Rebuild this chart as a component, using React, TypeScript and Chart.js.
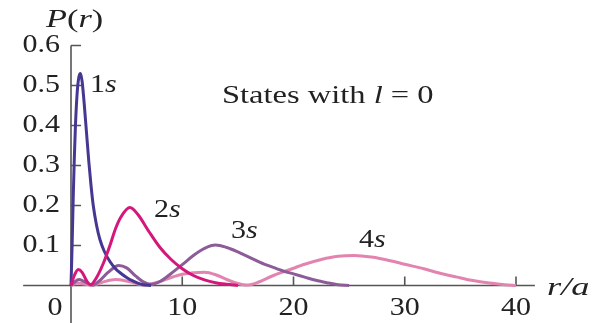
import React, { useEffect, useRef } from "react";
import { Chart, registerables } from "chart.js";

Chart.register(...registerables);

// Radial probability distributions P(r) for hydrogen states with l = 0
const r1s = [0, 0.1, 0.2, 0.3, 0.4, 0.55, 0.7, 0.85, 1.0, 1.2, 1.4, 1.6, 1.8, 2.0, 2.3, 2.6, 3.0, 3.5, 4.0, 4.5, 5.0, 5.5, 6.0, 6.5, 7.2];
const p1s = [0, 0.1, 0.22, 0.32, 0.4, 0.48, 0.52, 0.53, 0.51, 0.45, 0.38, 0.31, 0.25, 0.2, 0.15, 0.115, 0.085, 0.06, 0.042, 0.03, 0.02, 0.012, 0.006, 0.002, 0];

const r2s = [0, 0.3, 0.65, 1.0, 1.4, 1.75, 2.3, 2.9, 3.5, 4.0, 4.5, 5.3, 6.0, 7.0, 8.0, 9.0, 10.0, 11.0, 12.0, 13.0, 14.0, 15.0];
const p2s = [0, 0.025, 0.04, 0.033, 0.012, 0.002, 0.02, 0.055, 0.1, 0.142, 0.172, 0.195, 0.178, 0.135, 0.095, 0.065, 0.042, 0.025, 0.014, 0.007, 0.003, 0];

const r3s = [0, 0.3, 0.7, 1.2, 1.9, 2.6, 3.3, 4.3, 5.0, 5.8, 6.5, 7.2, 8.0, 9.0, 10.0, 11.0, 12.0, 13.0, 14.0, 15.0, 16.0, 17.0, 18.0, 19.0, 20.0, 21.0, 22.0, 23.0, 24.0, 25.0];
const p3s = [0, 0.008, 0.015, 0.01, 0.001, 0.013, 0.032, 0.05, 0.044, 0.024, 0.009, 0.003, 0.01, 0.03, 0.052, 0.075, 0.093, 0.101, 0.095, 0.084, 0.071, 0.058, 0.047, 0.037, 0.029, 0.021, 0.013, 0.007, 0.002, 0];

const r4s = [0, 0.6, 1.2, 1.9, 2.8, 4.0, 5.2, 6.6, 8.0, 9.0, 10.0, 11.0, 12.0, 13.0, 14.0, 15.0, 15.8, 17.0, 18.2, 19.7, 21.0, 22.5, 24.0, 25.5, 27.0, 28.7, 30.0, 31.7, 33.0, 34.7, 36.0, 37.6, 39.0, 40.0];
const p4s = [0, 0.006, 0.004, 0.0005, 0.008, 0.015, 0.01, 0.001, 0.01, 0.02, 0.028, 0.032, 0.033, 0.027, 0.015, 0.005, 0.001, 0.01, 0.025, 0.04, 0.053, 0.065, 0.073, 0.075, 0.071, 0.062, 0.053, 0.042, 0.032, 0.021, 0.013, 0.006, 0.002, 0];

const xTicks = [0, 10, 20, 30, 40];
const xTickLabels = ["0", "10", "20", "30", "40"];
const yTicks = [0.1, 0.2, 0.3, 0.4, 0.5, 0.6];
const yTickLabels = ["0.1", "0.2", "0.3", "0.4", "0.5", "0.6"];

const W = 598;
const H = 323;
const SERIF = '"Liberation Serif", "Times New Roman", serif';
const INK = "#222222";
const AXIS = "#555555";
const STRETCH = 1.2;

function toPoints(xs: number[], ys: number[]) {
  return xs.map((x, i) => ({ x, y: ys[i] }));
}

type Part = { t: string; italic?: boolean };

// Draws a run of text pieces (some italic) starting at x, horizontally widened
function drawParts(ctx: CanvasRenderingContext2D, parts: Part[], x: number, y: number, size: number, sx = STRETCH) {
  ctx.save();
  ctx.translate(x, y);
  ctx.scale(sx, 1);
  ctx.fillStyle = INK;
  ctx.textAlign = "left";
  ctx.textBaseline = "alphabetic";
  let cx = 0;
  for (const p of parts) {
    ctx.font = `${p.italic ? "italic " : ""}${size}px ${SERIF}`;
    ctx.fillText(p.t, cx, 0);
    cx += ctx.measureText(p.t).width;
  }
  ctx.restore();
}

function drawAligned(ctx: CanvasRenderingContext2D, text: string, x: number, y: number, size: number, align: CanvasTextAlign, baseline: CanvasTextBaseline) {
  ctx.save();
  ctx.translate(x, y);
  ctx.scale(STRETCH, 1);
  ctx.fillStyle = INK;
  ctx.font = `${size}px ${SERIF}`;
  ctx.textAlign = align;
  ctx.textBaseline = baseline;
  ctx.fillText(text, 0, 0);
  ctx.restore();
}

const axesPlugin = {
  id: "crossedAxes",
  beforeDatasetsDraw(chart: any) {
    const ctx: CanvasRenderingContext2D = chart.ctx;
    const xs = chart.scales.x;
    const ys = chart.scales.y;
    const x0 = xs.getPixelForValue(0);
    const y0 = ys.getPixelForValue(0);
    ctx.save();
    ctx.strokeStyle = AXIS;
    ctx.lineWidth = 1.6;
    ctx.beginPath();
    // horizontal axis through P = 0
    ctx.moveTo(xs.getPixelForValue(-4.3), y0);
    ctx.lineTo(xs.getPixelForValue(41.7), y0);
    // vertical axis through r = 0
    ctx.moveTo(x0, ys.getPixelForValue(0.6));
    ctx.lineTo(x0, H);
    ctx.stroke();
    ctx.beginPath();
    for (const v of xTicks) {
      if (v === 0) continue;
      const px = xs.getPixelForValue(v);
      ctx.moveTo(px, y0);
      ctx.lineTo(px, y0 - 9);
    }
    for (const v of yTicks) {
      const py = ys.getPixelForValue(v);
      ctx.moveTo(x0, py);
      ctx.lineTo(x0 + 10, py);
    }
    ctx.stroke();
    ctx.restore();
  },
  afterDraw(chart: any) {
    const ctx: CanvasRenderingContext2D = chart.ctx;
    const xs = chart.scales.x;
    const ys = chart.scales.y;
    const x0 = xs.getPixelForValue(0);
    xTicks.forEach((v, i) => {
      const px = v === 0 ? x0 - 16 : xs.getPixelForValue(v);
      drawAligned(ctx, xTickLabels[i], px, 315, 25, "center", "alphabetic");
    });
    yTicks.forEach((v, i) => {
      drawAligned(ctx, yTickLabels[i], x0 - 11, ys.getPixelForValue(v), 25, "right", "middle");
    });
    drawParts(ctx, [{ t: "P", italic: true }, { t: "(" }, { t: "r", italic: true }, { t: ")" }], 46, 27, 26, 1.32);
    drawParts(ctx, [{ t: "r/a", italic: true }], 547, 295, 26, 1.4);
    drawParts(ctx, [{ t: "1" }, { t: "s", italic: true }], 90, 92, 25);
    drawParts(ctx, [{ t: "2" }, { t: "s", italic: true }], 154, 217, 25);
    drawParts(ctx, [{ t: "3" }, { t: "s", italic: true }], 231, 238, 25);
    drawParts(ctx, [{ t: "4" }, { t: "s", italic: true }], 359, 247, 25);
    drawParts(ctx, [{ t: "States with " }, { t: "l", italic: true }, { t: " = 0" }], 222, 103, 26, 1.25);
  },
};

export default function App() {
  const ref = useRef<HTMLCanvasElement | null>(null);

  useEffect(() => {
    document.body.style.margin = "0";
    const canvas = ref.current;
    if (!canvas) return;
    const line = (label: string, xs: number[], ys: number[], color: string, order: number) => ({
      label,
      data: toPoints(xs, ys),
      borderColor: color,
      backgroundColor: color,
      borderWidth: 3,
      pointRadius: 0,
      fill: false,
      cubicInterpolationMode: "monotone" as const,
      order,
    });
    const chart = new Chart(canvas, {
      type: "line",
      data: {
        datasets: [
          line("2s", r2s, p2s, "#d4177a", 1),
          line("1s", r1s, p1s, "#463892", 2),
          line("3s", r3s, p3s, "#8c5c98", 3),
          line("4s", r4s, p4s, "#e384b0", 4),
        ],
      },
      options: {
        responsive: false,
        animation: false,
        layout: { padding: 0 },
        plugins: { legend: { display: false }, tooltip: { enabled: false } },
        scales: {
          x: { type: "linear", display: false, min: -6.382, max: 47.371 },
          y: { type: "linear", display: false, min: -0.09375, max: 0.71375 },
        },
      },
      plugins: [axesPlugin],
    });
    return () => chart.destroy();
  }, []);

  return (
    <div style={{ position: "fixed", left: 0, top: 0, width: W, height: H, background: "#ffffff" }}>
      <canvas ref={ref} width={W} height={H} style={{ display: "block", width: W, height: H }} />
    </div>
  );
}
